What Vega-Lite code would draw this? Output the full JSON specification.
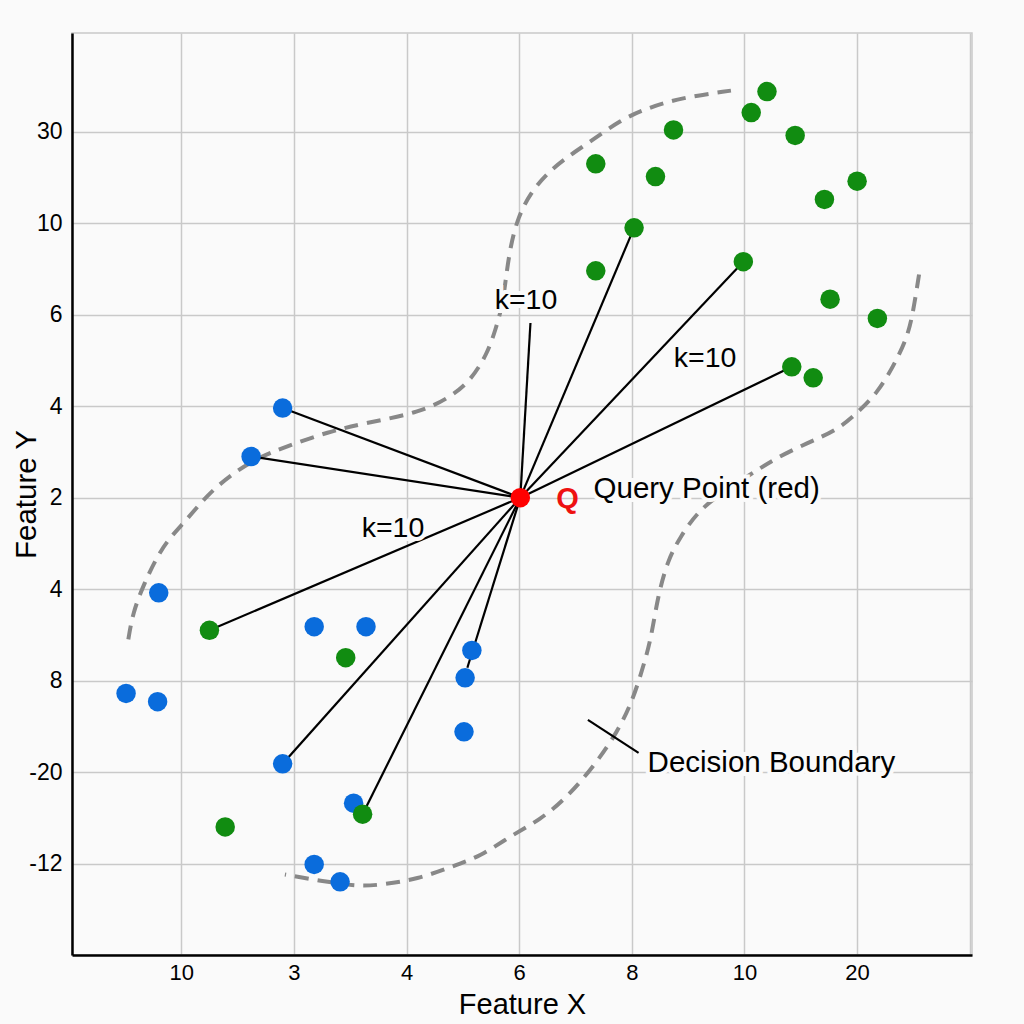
{
  "$schema": "https://vega.github.io/schema/vega-lite/v6.json",
  "width": 900,
  "height": 922,
  "autosize": {"type": "none"},
  "padding": {"left": 72, "top": 33, "right": 52, "bottom": 69},
  "background": "#fafafa",
  "config": {
    "view": {"stroke": "#c9c9c9", "strokeWidth": 1.5, "fill": "#fafafa"},
    "font": "Liberation Sans"
  },
  "datasets": {
    "points": [
      {"x": 1.90, "y": 5.98, "cls": "blue"},
      {"x": 1.62, "y": 5.45, "cls": "blue"},
      {"x": 0.80, "y": 3.96, "cls": "blue"},
      {"x": 0.51, "y": 2.86, "cls": "blue"},
      {"x": 0.79, "y": 2.77, "cls": "blue"},
      {"x": 2.18, "y": 3.59, "cls": "blue"},
      {"x": 2.64, "y": 3.59, "cls": "blue"},
      {"x": 3.58, "y": 3.33, "cls": "blue"},
      {"x": 3.52, "y": 3.03, "cls": "blue"},
      {"x": 3.51, "y": 2.44, "cls": "blue"},
      {"x": 1.90, "y": 2.09, "cls": "blue"},
      {"x": 2.53, "y": 1.66, "cls": "blue"},
      {"x": 2.18, "y": 0.99, "cls": "blue"},
      {"x": 2.41, "y": 0.80, "cls": "blue"},
      {"x": 6.20, "y": 9.44, "cls": "green"},
      {"x": 6.06, "y": 9.21, "cls": "green"},
      {"x": 6.45, "y": 8.96, "cls": "green"},
      {"x": 5.37, "y": 9.02, "cls": "green"},
      {"x": 4.68, "y": 8.65, "cls": "green"},
      {"x": 5.21, "y": 8.51, "cls": "green"},
      {"x": 7.00, "y": 8.46, "cls": "green"},
      {"x": 6.71, "y": 8.26, "cls": "green"},
      {"x": 5.02, "y": 7.95, "cls": "green"},
      {"x": 4.68, "y": 7.48, "cls": "green"},
      {"x": 5.99, "y": 7.58, "cls": "green"},
      {"x": 6.76, "y": 7.17, "cls": "green"},
      {"x": 7.18, "y": 6.96, "cls": "green"},
      {"x": 6.42, "y": 6.43, "cls": "green"},
      {"x": 6.61, "y": 6.31, "cls": "green"},
      {"x": 1.25, "y": 3.55, "cls": "green"},
      {"x": 2.46, "y": 3.25, "cls": "green"},
      {"x": 2.61, "y": 1.54, "cls": "green"},
      {"x": 1.39, "y": 1.40, "cls": "green"},
      {"x": 4.01, "y": 5.00, "cls": "query"}
    ],
    "links": [
      {"x": 4.01, "y": 5.00, "x2": 1.90, "y2": 5.98},
      {"x": 4.01, "y": 5.00, "x2": 1.62, "y2": 5.45},
      {"x": 4.01, "y": 5.00, "x2": 1.25, "y2": 3.55},
      {"x": 4.01, "y": 5.00, "x2": 1.90, "y2": 2.09},
      {"x": 4.01, "y": 5.00, "x2": 2.61, "y2": 1.54},
      {"x": 4.01, "y": 5.00, "x2": 3.54, "y2": 3.14},
      {"x": 4.01, "y": 5.00, "x2": 4.10, "y2": 6.91},
      {"x": 4.01, "y": 5.00, "x2": 5.02, "y2": 7.95},
      {"x": 4.01, "y": 5.00, "x2": 5.99, "y2": 7.58},
      {"x": 4.01, "y": 5.00, "x2": 6.42, "y2": 6.43},
      {"x": 4.61, "y": 2.57, "x2": 5.06, "y2": 2.21}
    ],
    "boundary": [
      {"curve": "a", "i": 1, "x": 0.53, "y": 3.45},
      {"curve": "a", "i": 2, "x": 0.57, "y": 3.74},
      {"curve": "a", "i": 3, "x": 0.66, "y": 4.03},
      {"curve": "a", "i": 4, "x": 0.77, "y": 4.32},
      {"curve": "a", "i": 5, "x": 0.88, "y": 4.54},
      {"curve": "a", "i": 6, "x": 1.05, "y": 4.76},
      {"curve": "a", "i": 7, "x": 1.23, "y": 5.03},
      {"curve": "a", "i": 8, "x": 1.46, "y": 5.27},
      {"curve": "a", "i": 9, "x": 1.70, "y": 5.45},
      {"curve": "a", "i": 10, "x": 1.94, "y": 5.56},
      {"curve": "a", "i": 11, "x": 2.30, "y": 5.72},
      {"curve": "a", "i": 12, "x": 2.65, "y": 5.82},
      {"curve": "a", "i": 13, "x": 3.12, "y": 5.93},
      {"curve": "a", "i": 14, "x": 3.39, "y": 6.10},
      {"curve": "a", "i": 15, "x": 3.57, "y": 6.28},
      {"curve": "a", "i": 16, "x": 3.72, "y": 6.58},
      {"curve": "a", "i": 17, "x": 3.79, "y": 6.84},
      {"curve": "a", "i": 18, "x": 3.85, "y": 7.09},
      {"curve": "a", "i": 19, "x": 3.88, "y": 7.38},
      {"curve": "a", "i": 20, "x": 3.92, "y": 7.74},
      {"curve": "a", "i": 21, "x": 3.99, "y": 8.07},
      {"curve": "a", "i": 22, "x": 4.10, "y": 8.33},
      {"curve": "a", "i": 23, "x": 4.25, "y": 8.55},
      {"curve": "a", "i": 24, "x": 4.43, "y": 8.73},
      {"curve": "a", "i": 25, "x": 4.63, "y": 8.89},
      {"curve": "a", "i": 26, "x": 4.90, "y": 9.13},
      {"curve": "a", "i": 27, "x": 5.14, "y": 9.26},
      {"curve": "a", "i": 28, "x": 5.43, "y": 9.37},
      {"curve": "a", "i": 29, "x": 5.88, "y": 9.45},
      {"curve": "b", "i": 1, "x": 7.55, "y": 7.44},
      {"curve": "b", "i": 2, "x": 7.50, "y": 7.05},
      {"curve": "b", "i": 3, "x": 7.45, "y": 6.76},
      {"curve": "b", "i": 4, "x": 7.32, "y": 6.43},
      {"curve": "b", "i": 5, "x": 7.18, "y": 6.15},
      {"curve": "b", "i": 6, "x": 7.03, "y": 5.96},
      {"curve": "b", "i": 7, "x": 6.83, "y": 5.74},
      {"curve": "b", "i": 8, "x": 6.56, "y": 5.60},
      {"curve": "b", "i": 9, "x": 6.26, "y": 5.42},
      {"curve": "b", "i": 10, "x": 6.05, "y": 5.25},
      {"curve": "b", "i": 11, "x": 5.79, "y": 5.05},
      {"curve": "b", "i": 12, "x": 5.58, "y": 4.84},
      {"curve": "b", "i": 13, "x": 5.43, "y": 4.57},
      {"curve": "b", "i": 14, "x": 5.32, "y": 4.32},
      {"curve": "b", "i": 15, "x": 5.23, "y": 3.92},
      {"curve": "b", "i": 16, "x": 5.17, "y": 3.45},
      {"curve": "b", "i": 17, "x": 5.10, "y": 3.15},
      {"curve": "b", "i": 18, "x": 5.01, "y": 2.79},
      {"curve": "b", "i": 19, "x": 4.87, "y": 2.43},
      {"curve": "b", "i": 20, "x": 4.66, "y": 2.06},
      {"curve": "b", "i": 21, "x": 4.43, "y": 1.73},
      {"curve": "b", "i": 22, "x": 4.19, "y": 1.48},
      {"curve": "b", "i": 23, "x": 3.92, "y": 1.30},
      {"curve": "b", "i": 24, "x": 3.66, "y": 1.08},
      {"curve": "b", "i": 25, "x": 3.39, "y": 0.96},
      {"curve": "b", "i": 26, "x": 3.10, "y": 0.83},
      {"curve": "b", "i": 27, "x": 2.79, "y": 0.77},
      {"curve": "b", "i": 28, "x": 2.59, "y": 0.75},
      {"curve": "b", "i": 29, "x": 2.35, "y": 0.79},
      {"curve": "b", "i": 30, "x": 2.15, "y": 0.83},
      {"curve": "b", "i": 31, "x": 1.92, "y": 0.88}
    ],
    "klabels": [
      {"x": 4.06, "y": 7.16, "label": "k=10"},
      {"x": 5.65, "y": 6.53, "label": "k=10"},
      {"x": 2.88, "y": 4.67, "label": "k=10"}
    ],
    "notes": [
      {"x": 4.66, "y": 5.09, "label": "Query Point (red)"},
      {"x": 5.14, "y": 2.10, "label": "Decision Boundary"}
    ],
    "qlabel": [
      {"x": 4.43, "y": 4.98, "label": "Q"}
    ]
  },
  "encoding": {
    "x": {
      "field": "x",
      "type": "quantitative",
      "scale": {"domain": [0.03, 8.02], "nice": false, "zero": false},
      "axis": {
        "title": "Feature X",
        "values": [1, 2, 3, 4, 5, 6, 7, 8],
        "labelExpr": "['','10','3','4','6','8','10','20',''][datum.value]",
        "grid": true,
        "gridColor": "#c9c9c9",
        "gridWidth": 1.5,
        "tickSize": 0,
        "ticks": false,
        "domainColor": "black",
        "domainWidth": 2.5,
        "labelFontSize": 22,
        "labelColor": "black",
        "labelPadding": 7,
        "labelFont": "Liberation Sans",
        "titleFont": "Liberation Sans",
        "titleFontSize": 29,
        "titleFontWeight": "normal",
        "titleColor": "black",
        "titleY": 58,
        "titleBaseline": "alphabetic"
      }
    },
    "y": {
      "field": "y",
      "type": "quantitative",
      "scale": {"domain": [0, 10.08], "nice": false, "zero": false},
      "axis": {
        "title": "Feature Y",
        "values": [1, 2, 3, 4, 5, 6, 7, 8, 9],
        "labelExpr": "['','-12','-20','8','4','2','4','6','10','30'][datum.value]",
        "grid": true,
        "gridColor": "#c9c9c9",
        "gridWidth": 1.5,
        "tickSize": 0,
        "ticks": false,
        "domainColor": "black",
        "domainWidth": 2.5,
        "labelFontSize": 23,
        "labelColor": "black",
        "labelPadding": 10,
        "labelFont": "Liberation Sans",
        "titleFont": "Liberation Sans",
        "titleFontSize": 29.5,
        "titleFontWeight": "normal",
        "titleColor": "black",
        "titleX": -46,
        "titleY": 461,
        "titleBaseline": "middle",
        "titleAngle": -90
      }
    }
  },
  "layer": [
    {
      "data": {"name": "boundary"},
      "mark": {"type": "line", "color": "#888888", "strokeWidth": 4, "strokeDash": [14, 9], "interpolate": "basis"},
      "encoding": {
        "detail": {"field": "curve"},
        "order": {"field": "i", "type": "quantitative"}
      }
    },
    {
      "data": {"name": "links"},
      "mark": {"type": "rule", "color": "black", "strokeWidth": 2.2},
      "encoding": {
        "x2": {"field": "x2"},
        "y2": {"field": "y2"}
      }
    },
    {
      "data": {"name": "points"},
      "mark": {"type": "circle", "size": 380, "opacity": 1},
      "encoding": {
        "color": {
          "field": "cls",
          "type": "nominal",
          "scale": {"domain": ["blue", "green", "query"], "range": ["#0a6cdc", "#118c11", "#ff0000"]},
          "legend": null
        }
      }
    },
    {
      "data": {"name": "klabels"},
      "mark": {"type": "text", "fontSize": 28.5, "align": "center", "baseline": "middle", "stroke": "#fafafa", "strokeWidth": 8, "fill": "#fafafa"},
      "encoding": {"text": {"field": "label"}}
    },
    {
      "data": {"name": "klabels"},
      "mark": {"type": "text", "fontSize": 28.5, "align": "center", "baseline": "middle", "color": "black"},
      "encoding": {"text": {"field": "label"}}
    },
    {
      "data": {"name": "notes"},
      "mark": {"type": "text", "fontSize": 29.5, "align": "left", "baseline": "middle", "stroke": "#fafafa", "strokeWidth": 8, "fill": "#fafafa"},
      "encoding": {"text": {"field": "label"}}
    },
    {
      "data": {"name": "notes"},
      "mark": {"type": "text", "fontSize": 29.5, "align": "left", "baseline": "middle", "color": "black"},
      "encoding": {"text": {"field": "label"}}
    },
    {
      "data": {"name": "qlabel"},
      "mark": {"type": "text", "fontSize": 29, "fontWeight": "bold", "align": "center", "baseline": "middle", "color": "#ee1111"},
      "encoding": {"text": {"field": "label"}}
    }
  ]
}
